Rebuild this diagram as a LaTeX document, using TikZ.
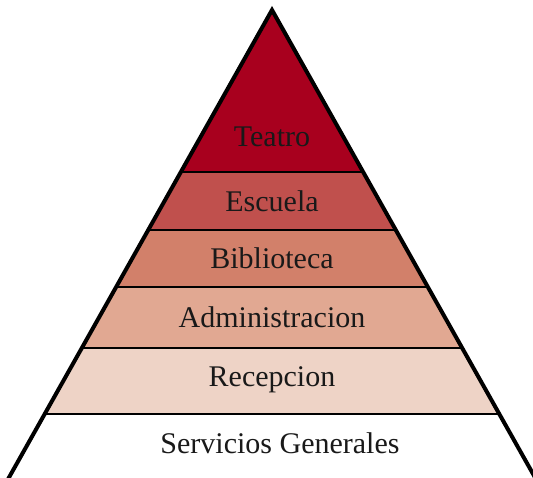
\documentclass[tikz,border=0pt]{standalone}
\usepackage{fontspec}
\setmainfont{Liberation Serif}
\definecolor{cTeatro}{HTML}{A8001E}
\definecolor{cEscuela}{HTML}{C0504D}
\definecolor{cBiblio}{HTML}{D2806A}
\definecolor{cAdmin}{HTML}{E1A892}
\definecolor{cRecep}{HTML}{EED3C6}
\tikzset{
  band/.style={line width=2pt, draw=black},
  lbl/.style={font=\fontsize{30}{34}\selectfont, text=black!90, inner sep=0pt},
  outer/.style={line width=4pt, line join=miter}
}
\begin{document}
\begin{tikzpicture}[x=1pt,y=1pt]
\useasboundingbox (0,0) rectangle (533,477);
\clip (0,0) rectangle (533,477);
\fill[white] (0,0) rectangle (533,477);
\coordinate (apex) at (272,467);
\coordinate (bl) at (7,-4);
\coordinate (br) at (537,-4);
\begin{scope}
  \clip (apex) -- (bl) -- (br) -- cycle;
  \fill[cTeatro] (0,305) rectangle (533,477);
  \fill[cEscuela] (0,247) rectangle (533,305);
  \fill[cBiblio] (0,190) rectangle (533,247);
  \fill[cAdmin] (0,129) rectangle (533,190);
  \fill[cRecep] (0,63) rectangle (533,129);
  \draw[band] (0,305) -- (533,305);
  \draw[band] (0,247) -- (533,247);
  \draw[band] (0,190) -- (533,190);
  \draw[band] (0,129) -- (533,129);
  \draw[band] (0,63) -- (533,63);
\end{scope}
\draw[outer] (bl) -- (apex) -- (br);
\node[lbl] (t1) at (272,340) {Teatro};
\node[lbl] (t2) at (272,276) {Escuela};
\node[lbl] (t3) at (272,219) {Biblioteca};
\node[lbl] (t4) at (272,160) {Administracion};
\node[lbl] (t5) at (272,97) {Recepcion};
\node[lbl] (t6) at (280,34) {Servicios Generales};
\end{tikzpicture}
\end{document}
